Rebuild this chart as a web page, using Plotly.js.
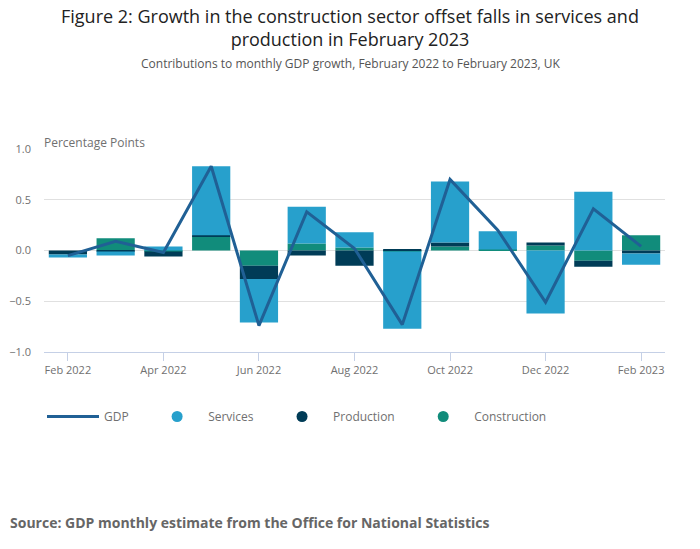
<!DOCTYPE html>
<html>
<head>
<meta charset="utf-8">
<script src="https://cdn.plot.ly/plotly-3.0.1.min.js"></script>
<style>
  body { margin: 0; background: #fff; }
  #myDiv { width: 700px; height: 549px; }
</style>
</head>
<body>
<div id="myDiv"></div>
<script>
var months = ['Feb 2022', 'Mar 2022', 'Apr 2022', 'May 2022', 'Jun 2022', 'Jul 2022',
              'Aug 2022', 'Sep 2022', 'Oct 2022', 'Nov 2022', 'Dec 2022', 'Jan 2023', 'Feb 2023'];
var services     = [-0.03, -0.04,  0.04,  0.68, -0.43,  0.36,  0.15, -0.76,  0.60,  0.18, -0.62,  0.58, -0.11];
var production   = [-0.04, -0.01, -0.05,  0.01, -0.13, -0.05, -0.15,  0.01,  0.04,  0.00,  0.03, -0.06, -0.03];
var construction = [ 0.00,  0.12, -0.01,  0.14, -0.15,  0.07,  0.03, -0.01,  0.04,  0.01,  0.05, -0.10,  0.15];
var gdp          = [-0.05,  0.09, -0.02,  0.83, -0.74,  0.38,  0.02, -0.73,  0.70,  0.20, -0.51,  0.41,  0.04];
var tickMonths = ['Feb 2022', 'Apr 2022', 'Jun 2022', 'Aug 2022', 'Oct 2022', 'Dec 2022', 'Feb 2023'];

var cServices = '#27a0cc', cProduction = '#003c57', cConstruction = '#118c7b', cGdp = '#206095';
var pad = '\u00a0\u00a0\u00a0\u00a0';  // widen gap between legend entries

var data = [
  // bars stack outward from zero in this order: construction, production, services
  {x: months, y: construction, type: 'bar', name: 'Construction', marker: {color: cConstruction}, showlegend: false, legendgroup: 'c'},
  {x: months, y: production, type: 'bar', name: 'Production', marker: {color: cProduction}, showlegend: false, legendgroup: 'p'},
  {x: months, y: services, type: 'bar', name: 'Services', marker: {color: cServices}, showlegend: false, legendgroup: 's'},
  {x: months, y: gdp, type: 'scatter', mode: 'lines', name: 'GDP' + pad, line: {color: cGdp, width: 3}, legendrank: 1},
  // legend entries with round markers
  {x: [null], y: [null], type: 'scatter', mode: 'markers', name: 'Services' + pad, marker: {color: cServices, size: 11}, legendgroup: 's', legendrank: 2},
  {x: [null], y: [null], type: 'scatter', mode: 'markers', name: 'Production' + pad, marker: {color: cProduction, size: 11}, legendgroup: 'p', legendrank: 3},
  {x: [null], y: [null], type: 'scatter', mode: 'markers', name: 'Construction', marker: {color: cConstruction, size: 11}, legendgroup: 'c', legendrank: 4}
];

var mT = 149, mB = 197, mL = 44, mR = 35;
var plotH = 549 - mT - mB, plotW = 700 - mL - mR;
function py(pix) { return (549 - mB - pix) / plotH; }   // page pixel row -> paper y
function px(pix) { return (pix - mL) / plotW; }         // page pixel column -> paper x

var layout = {
  width: 700, height: 549,
  margin: {l: mL, r: mR, t: mT, b: mB},
  paper_bgcolor: '#fff', plot_bgcolor: '#fff',
  font: {family: 'Open Sans, sans-serif', color: '#707070', size: 11},
  barmode: 'relative',
  bargap: 0.2,
  xaxis: {
    type: 'category', range: [-0.5, 12.5],
    tickvals: tickMonths, ticktext: tickMonths,
    ticks: 'outside', ticklen: 8, tickcolor: '#c5d0e6',
    showline: true, linecolor: '#c5d0e6', linewidth: 1,
    showgrid: false, tickfont: {size: 11, color: '#707070'}
  },
  yaxis: {
    range: [-1, 1], dtick: 0.5, tickformat: '.1f',
    gridcolor: '#e0e0e0', zeroline: false, showline: false,
    ticklabelstandoff: 12, tickfont: {size: 11, color: '#707070'}
  },
  showlegend: true,
  legend: {
    orientation: 'h', x: px(42), xanchor: 'left', y: py(402), yanchor: 'top',
    font: {size: 12, color: '#707070'}, itemwidth: 52, traceorder: 'normal'
  },
  annotations: [
    {text: 'Figure 2: Growth in the construction sector offset falls in services and<br>production in February 2023',
     xref: 'paper', yref: 'paper', x: px(350), y: py(28), xanchor: 'center', yanchor: 'middle',
     showarrow: false, font: {size: 18, color: '#222'}},
    {text: 'Contributions to monthly GDP growth, February 2022 to February 2023, UK',
     xref: 'paper', yref: 'paper', x: px(350), y: py(64), xanchor: 'center', yanchor: 'middle',
     showarrow: false, font: {size: 12, color: '#555'}},
    {text: 'Percentage Points', xref: 'paper', yref: 'paper', x: px(42), y: py(142), xanchor: 'left', yanchor: 'middle',
     showarrow: false, font: {size: 12, color: '#707070'}},
    {text: '<b>Source: GDP monthly estimate from the Office for National Statistics</b>',
     xref: 'paper', yref: 'paper', x: px(8), y: py(522), xanchor: 'left', yanchor: 'middle',
     showarrow: false, font: {size: 14, color: '#666'}}
  ]
};

Plotly.newPlot('myDiv', data, layout, {displayModeBar: false});
</script>
</body>
</html>
